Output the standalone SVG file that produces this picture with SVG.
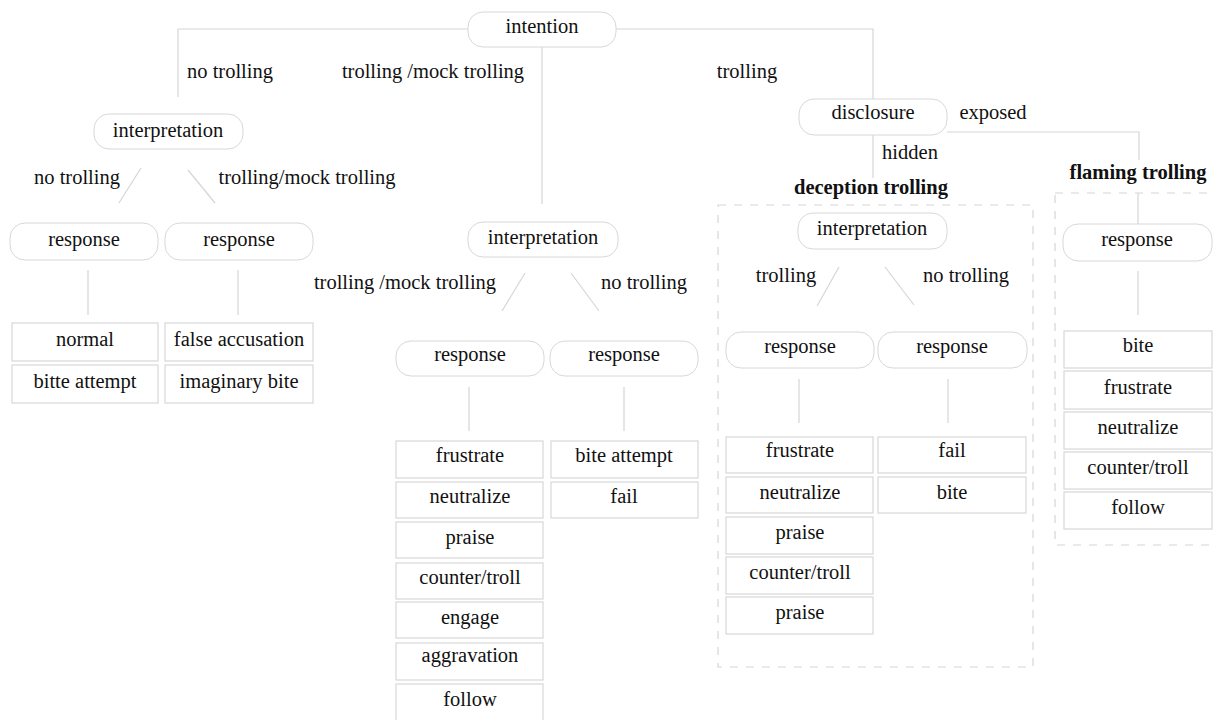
<svg xmlns="http://www.w3.org/2000/svg" width="1213" height="720" viewBox="0 0 1213 720">
<style>
text{font-family:'Liberation Serif','DejaVu Serif',serif;font-size:20.5px;fill:#111;text-anchor:middle}
.b{font-weight:bold}
.n{fill:#fff;stroke:#d8d8d8;stroke-width:1}
.l{fill:#fff;stroke:#d8d8d8;stroke-width:1.2}
.c{fill:none;stroke:#d6d6d6;stroke-width:1.2}
.d{fill:none;stroke:#d6d6d6;stroke-width:1.2;stroke-dasharray:8 8}
</style>
<rect width="1213" height="720" fill="#fff"/>
<g id="groups">
<rect class="d" x="718" y="205" width="315" height="462"/>
<rect class="d" x="1055" y="193" width="165" height="352"/>
</g>
<g id="connectors">
<path class="c" d="M469 29H178V97"/>
<path class="c" d="M616 29H873V99"/>
<path class="c" d="M542 47V204"/>
<path class="c" d="M141 168L119 203M188 170L215 203"/>
<path class="c" d="M88 270V315M238 270V315"/>
<path class="c" d="M525 273L502 311M571 273L599 311"/>
<path class="c" d="M469 387V431M624 387V431"/>
<path class="c" d="M947 132H1139V160"/>
<path class="c" d="M873 135V178"/>
<path class="c" d="M1138 193V224"/>
<path class="c" d="M839 267L817 306M885 267L914 305"/>
<path class="c" d="M799 379V423M948 379V423"/>
<path class="c" d="M1138 271V315"/>
</g>
<g id="labels">
<text x="230" y="78">no trolling</text>
<text x="433" y="78">trolling /mock trolling</text>
<text x="747" y="78">trolling</text>
<text x="993" y="119">exposed</text>
<text x="910" y="159">hidden</text>
<text class="b" x="871" y="194">deception trolling</text>
<text class="b" x="1138" y="179">flaming trolling</text>
<text x="77" y="184">no trolling</text>
<text x="307" y="184">trolling/mock trolling</text>
<text x="405" y="289">trolling /mock trolling</text>
<text x="644" y="289">no trolling</text>
<text x="786" y="282">trolling</text>
<text x="966" y="282">no trolling</text>
</g>
<g id="intention"><rect class="n" x="468" y="12" width="148" height="35" rx="15"/><text x="542" y="33">intention</text></g>
<g id="interpretation1"><rect class="n" x="94" y="114" width="149" height="35" rx="15"/><text x="168" y="137">interpretation</text></g>
<g id="interpretation2"><rect class="n" x="468" y="222" width="150" height="35" rx="15"/><text x="543" y="244">interpretation</text></g>
<g id="disclosure"><rect class="n" x="799" y="99" width="148" height="36" rx="15"/><text x="873" y="119">disclosure</text></g>
<g id="interpretation3"><rect class="n" x="798" y="213" width="149" height="36" rx="15"/><text x="872" y="235">interpretation</text></g>
<g id="responseA"><rect class="n" x="10" y="223" width="148" height="37" rx="15"/><text x="84" y="246">response</text></g>
<g id="responseB"><rect class="n" x="165" y="223" width="148" height="37" rx="15"/><text x="239" y="246">response</text></g>
<g id="responseC"><rect class="n" x="396" y="341" width="148" height="35" rx="15"/><text x="470" y="361">response</text></g>
<g id="responseD"><rect class="n" x="550" y="341" width="148" height="35" rx="15"/><text x="624" y="361">response</text></g>
<g id="responseE"><rect class="n" x="726" y="332" width="148" height="36" rx="15"/><text x="800" y="353">response</text></g>
<g id="responseF"><rect class="n" x="878" y="332" width="149" height="36" rx="15"/><text x="952" y="353">response</text></g>
<g id="responseG"><rect class="n" x="1063" y="224" width="149" height="37" rx="15"/><text x="1137" y="246">response</text></g>
<g id="leavesA">
<rect class="l" x="12" y="323" width="146" height="38"/><text x="85" y="346">normal</text>
<rect class="l" x="12" y="365" width="146" height="38"/><text x="85" y="388">bitte attempt</text>
</g>
<g id="leavesB">
<rect class="l" x="165" y="323" width="148" height="38"/><text x="239" y="346">false accusation</text>
<rect class="l" x="165" y="365" width="148" height="38"/><text x="239" y="388">imaginary bite</text>
</g>
<g id="leavesC">
<rect class="l" x="396" y="441" width="147" height="37"/><text x="470" y="462">frustrate</text>
<rect class="l" x="396" y="482" width="147" height="36"/><text x="470" y="503">neutralize</text>
<rect class="l" x="396" y="522" width="147" height="36"/><text x="470" y="544">praise</text>
<rect class="l" x="396" y="563" width="147" height="36"/><text x="470" y="584">counter/troll</text>
<rect class="l" x="396" y="602" width="147" height="36"/><text x="470" y="624">engage</text>
<rect class="l" x="396" y="643" width="147" height="37"/><text x="470" y="662">aggravation</text>
<rect class="l" x="396" y="684" width="147" height="40"/><text x="470" y="706">follow</text>
</g>
<g id="leavesD">
<rect class="l" x="551" y="441" width="147" height="37"/><text x="624" y="462">bite attempt</text>
<rect class="l" x="551" y="482" width="147" height="36"/><text x="624" y="503">fail</text>
</g>
<g id="leavesE">
<rect class="l" x="726" y="437" width="147" height="36"/><text x="800" y="457">frustrate</text>
<rect class="l" x="726" y="477" width="147" height="36"/><text x="800" y="499">neutralize</text>
<rect class="l" x="726" y="517" width="147" height="37"/><text x="800" y="539">praise</text>
<rect class="l" x="726" y="557" width="147" height="37"/><text x="800" y="579">counter/troll</text>
<rect class="l" x="726" y="597" width="147" height="37"/><text x="800" y="619">praise</text>
</g>
<g id="leavesF">
<rect class="l" x="878" y="437" width="148" height="36"/><text x="952" y="457">fail</text>
<rect class="l" x="878" y="477" width="148" height="36"/><text x="952" y="499">bite</text>
</g>
<g id="leavesG">
<rect class="l" x="1064" y="331" width="148" height="37"/><text x="1138" y="352">bite</text>
<rect class="l" x="1064" y="371" width="148" height="38"/><text x="1138" y="394">frustrate</text>
<rect class="l" x="1064" y="412" width="148" height="37"/><text x="1138" y="434">neutralize</text>
<rect class="l" x="1064" y="452" width="148" height="37"/><text x="1138" y="474">counter/troll</text>
<rect class="l" x="1064" y="492" width="148" height="37"/><text x="1138" y="514">follow</text>
</g>
</svg>
